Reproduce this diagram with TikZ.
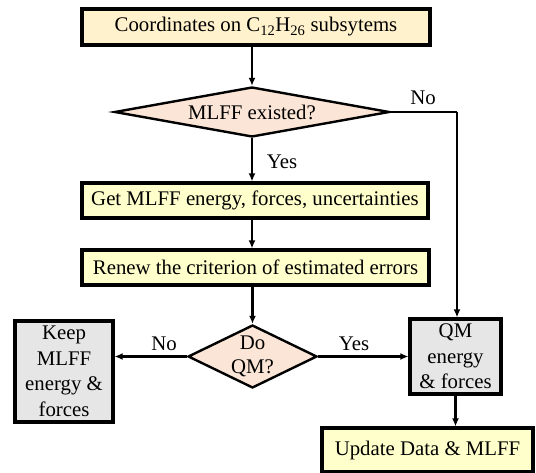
\documentclass[tikz,border=0pt]{standalone}
\usepackage{fontspec}
\setmainfont{Liberation Serif}
\usetikzlibrary{arrows.meta,shapes.geometric}
\definecolor{topfill}{HTML}{FFF2CC}
\definecolor{yelfill}{HTML}{FFFFCC}
\definecolor{diafill}{HTML}{FBE5D6}
\definecolor{grayfill}{HTML}{E7E6E6}
\tikzset{
  box/.style={draw=black, line width=3.2pt, rectangle, inner sep=0pt, align=center,
    font=\fontsize{20.8}{25.5}\selectfont},
  decision/.style={draw=black, line width=2.4pt, diamond, inner sep=0pt, align=center,
    fill=diafill, font=\fontsize{20.8}{24.5}\selectfont},
  conn/.style={line width=2.2pt, -{Latex[length=8pt,width=7pt]}},
  plainline/.style={line width=2.2pt},
  lbl/.style={font=\fontsize{20.8}{24}\selectfont, inner sep=0pt}
}
\begin{document}
\begin{tikzpicture}[x=1pt,y=-1pt]
\useasboundingbox (0,0) rectangle (536,473);
\node[box, fill=topfill, minimum width=348pt, minimum height=36pt] (coord) at (256,27)
  {Coordinates on C\textsubscript{12}H\textsubscript{26} subsytems};
\node[decision, aspect=5.5, minimum width=275pt, minimum height=50pt] (exist) at (252,112)
  {MLFF existed?};
\node[box, fill=yelfill, minimum width=346pt, minimum height=35pt] (get) at (255,200.5)
  {Get MLFF energy, forces, uncertainties};
\node[box, fill=yelfill, minimum width=347pt, minimum height=35pt] (renew) at (255.5,267.5)
  {Renew the criterion of estimated errors};
\node[decision, aspect=2, minimum width=129pt, minimum height=63pt] (doqm) at (252.5,356.5)
  {Do\\QM?};
\node[box, fill=grayfill, minimum width=98pt, minimum height=101pt] (keep) at (64,371.5)
  {Keep\\MLFF\\energy \&\\forces};
\node[box, fill=grayfill, minimum width=91pt, minimum height=75pt] (qm) at (455.5,356.5)
  {QM\\energy\\\& forces};
\node[box, fill=yelfill, minimum width=211pt, minimum height=44pt] (update) at (427.5,450)
  {Update Data \& MLFF};
\coordinate (corner) at (457,112);

\draw[conn] (coord.south -| exist.north) -- (exist.north);
\draw[conn] (exist.south) -- (get.north -| exist.south);
\draw[conn] (get.south -| exist.south) -- (renew.north -| exist.south);
\draw[conn] (renew.south -| doqm.north) -- (doqm.north);
\draw[plainline] (exist.east) -- (corner);
\draw[conn] (corner) -- (corner |- qm.north);
\draw[conn] (doqm.west) -- (keep.east |- doqm.west);
\draw[conn] (doqm.east) -- (qm.west |- doqm.east);
\draw[conn] (qm.south) -- (qm.south |- update.north);

\node[lbl] (yes1) at (282,162) {Yes};
\node[lbl] (no1) at (423,98) {No};
\node[lbl] (no2) at (164,344) {No};
\node[lbl] (yes2) at (354,344) {Yes};
\end{tikzpicture}
\end{document}
